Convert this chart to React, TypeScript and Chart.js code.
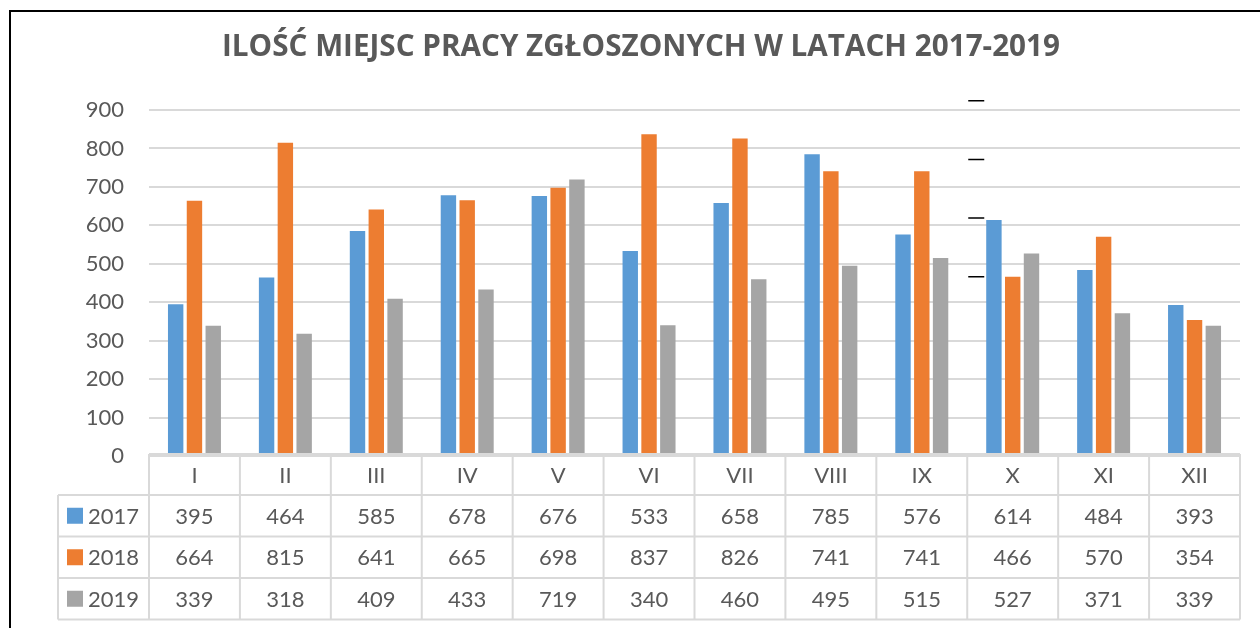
import React, { useEffect, useRef } from "react";
import { Chart, registerables } from "chart.js";

Chart.register(...registerables);

const title = "ILOŚĆ MIEJSC PRACY ZGŁOSZONYCH W LATACH 2017-2019";
const categories = ["I", "II", "III", "IV", "V", "VI", "VII", "VIII", "IX", "X", "XI", "XII"];
const seriesNames = ["2017", "2018", "2019"];
const values2017 = [395, 464, 585, 678, 676, 533, 658, 785, 576, 614, 484, 393];
const values2018 = [664, 815, 641, 665, 698, 837, 826, 741, 741, 466, 570, 354];
const values2019 = [339, 318, 409, 433, 719, 340, 460, 495, 515, 527, 371, 339];
const colors = ["#5B9BD5", "#ED7D31", "#A5A5A5"];
const yTicks = [0, 100, 200, 300, 400, 500, 600, 700, 800, 900];
// stray short black dashes seen in the reference, in axis units
const strayDashValues = [924, 771, 619, 466];

const FONT = "Lato, 'Open Sans', sans-serif";
const TITLE_FONT = "'Open Sans', 'Noto Sans', sans-serif";
const TEXT = "#595959";
const LINE = "#d9d9d9";

const decorPlugin = {
  id: "decor",
  afterDraw(chart: any) {
    const { ctx, chartArea, scales } = chart;
    const x = scales.x;
    const y = scales.y;
    const n = categories.length;
    const colW = (chartArea.right - chartArea.left) / n;
    const left = chartArea.left;
    const right = chartArea.right;
    const top = chartArea.bottom - 2;
    const headerH = 41;
    const rowH = 41.5;
    const legendLeft = 58;
    const allSeries = [values2017, values2018, values2019];
    const bottom = top + headerH + rowH * 3;

    ctx.save();
    // outer frame (top and left)
    ctx.strokeStyle = "#000";
    ctx.lineWidth = 2;
    ctx.beginPath();
    ctx.moveTo(10, 628);
    ctx.lineTo(10, 11);
    ctx.lineTo(1260, 11);
    ctx.stroke();

    // title
    ctx.fillStyle = TEXT;
    ctx.font = `bold 31px ${TITLE_FONT}`;
    const tw = ctx.measureText(title).width;
    const target = 838;
    ctx.save();
    ctx.translate(641, 56);
    ctx.scale(target / tw, 1);
    ctx.textAlign = "center";
    ctx.textBaseline = "alphabetic";
    ctx.fillText(title, 0, 0);
    ctx.restore();

    // table grid
    ctx.strokeStyle = LINE;
    ctx.lineWidth = 2;
    ctx.beginPath();
    ctx.moveTo(left, top);
    ctx.lineTo(right, top);
    for (let r = 0; r <= 3; r++) {
      const yy = top + headerH + r * rowH;
      ctx.moveTo(legendLeft, yy);
      ctx.lineTo(right, yy);
    }
    ctx.moveTo(legendLeft, top + headerH);
    ctx.lineTo(legendLeft, bottom);
    for (let i = 0; i <= n; i++) {
      const xx = left + i * colW;
      ctx.moveTo(xx, top);
      ctx.lineTo(xx, bottom);
    }
    ctx.stroke();

    // texts
    ctx.fillStyle = TEXT;
    ctx.font = `22px ${FONT}`;
    ctx.textAlign = "center";
    ctx.textBaseline = "middle";
    categories.forEach((c, i) => {
      ctx.fillText(c, x.getPixelForValue(i), top + headerH / 2 + 1);
    });
    allSeries.forEach((vals, r) => {
      const cy = top + headerH + r * rowH + rowH / 2 + 1;
      vals.forEach((v, i) => {
        ctx.fillText(String(v), x.getPixelForValue(i), cy);
      });
    });
    // legend keys
    seriesNames.forEach((s, r) => {
      const cy = top + headerH + r * rowH + rowH / 2;
      ctx.fillStyle = colors[r];
      ctx.fillRect(67, cy - 8, 16, 16);
      ctx.fillStyle = TEXT;
      ctx.textAlign = "left";
      ctx.fillText(s, 88, cy + 1);
    });

    // stray dashes
    ctx.strokeStyle = "#000";
    ctx.lineWidth = 1.5;
    const dx = (x.getPixelForValue(8) + x.getPixelForValue(9)) / 2;
    ctx.beginPath();
    strayDashValues.forEach((v) => {
      const yy = y.getPixelForValue(v);
      ctx.moveTo(dx + 1, yy);
      ctx.lineTo(dx + 17, yy);
    });
    ctx.stroke();
    ctx.restore();
  },
};

export default function App() {
  const ref = useRef<HTMLCanvasElement | null>(null);
  useEffect(() => {
    document.body.style.margin = "0";
    const canvas = ref.current;
    if (!canvas) return;
    const chart = new Chart(canvas, {
      type: "bar",
      data: {
        labels: categories,
        datasets: [values2017, values2018, values2019].map((d, i) => ({
          label: seriesNames[i],
          data: d,
          backgroundColor: colors[i],
          borderWidth: 0,
          categoryPercentage: 0.62,
          barPercentage: 0.82,
        })),
      },
      options: {
        animation: false,
        responsive: false,
        devicePixelRatio: 1,
        layout: { padding: { left: 0, right: 20, top: 110, bottom: 172 } },
        plugins: {
          legend: { display: false },
          title: { display: false },
          tooltip: { enabled: false },
        },
        scales: {
          x: { display: false },
          y: {
            min: 0,
            max: 900,
            afterBuildTicks: (s: any) => {
              s.ticks = yTicks.map((v) => ({ value: v }));
            },
            afterFit: (s: any) => {
              s.width = 149;
            },
            border: { display: false },
            grid: { color: LINE, lineWidth: 2, drawTicks: false },
            ticks: {
              padding: 25,
              color: TEXT,
              font: { family: FONT, size: 22 },
            },
          },
        },
      },
      plugins: [decorPlugin],
    });
    return () => chart.destroy();
  }, []);
  return (
    <div style={{ width: 1260, height: 628 }}>
      <canvas ref={ref} width={1260} height={628} />
    </div>
  );
}
